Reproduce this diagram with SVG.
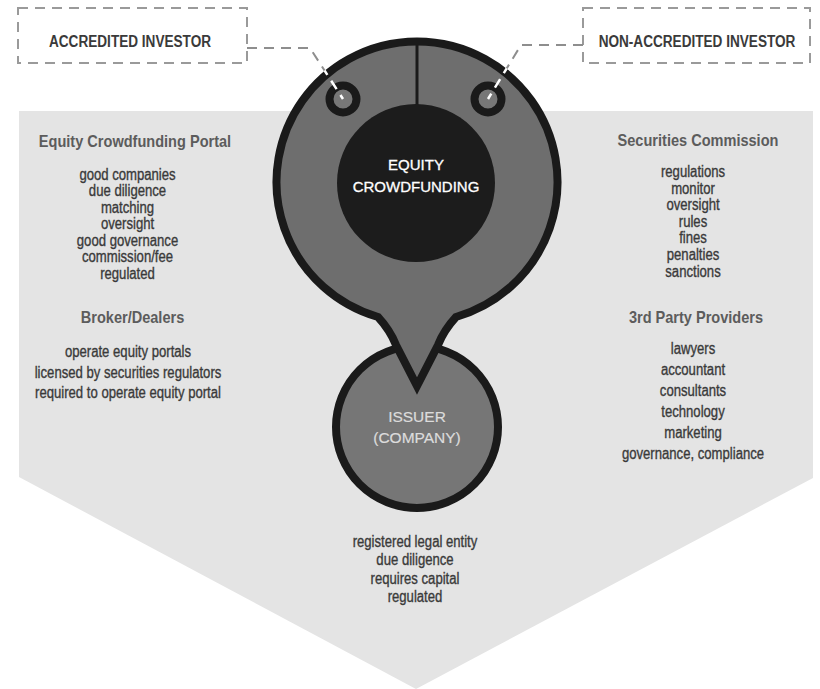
<svg xmlns="http://www.w3.org/2000/svg" width="820" height="689" viewBox="0 0 820 689">
<style>
.box{fill:none;stroke:#9a9a9a;stroke-width:2;stroke-dasharray:10 7}
.lbl{font-family:"Liberation Sans",Arial,sans-serif;font-weight:bold;font-size:17px;fill:#3a3a3a;text-anchor:middle}
.hd{font-family:"Liberation Sans",Arial,sans-serif;font-weight:bold;font-size:16px;fill:#5c5c5c;text-anchor:middle}
.tx{font-family:"Liberation Sans",Arial,sans-serif;font-size:16px;fill:#3a3a3a;stroke:#3a3a3a;stroke-width:0.35;text-anchor:middle}
.ctr{font-family:"Liberation Sans",Arial,sans-serif;font-size:15px;fill:#ffffff;stroke:#ffffff;stroke-width:0.3;text-anchor:middle}
.iss{font-family:"Liberation Sans",Arial,sans-serif;font-size:15.5px;fill:#dcdcdc;stroke:#dcdcdc;stroke-width:0.2;text-anchor:middle}
.conn{fill:none;stroke:#8e8e8e;stroke-width:2;stroke-dasharray:10 7}
.connw{fill:none;stroke:#ffffff;stroke-width:2.5;stroke-dasharray:10 7}
</style>
<defs>
<clipPath id="pinclip"><circle cx="417" cy="181" r="144"/></clipPath>
<clipPath id="outclip"><path d="M0 0H820V689H0Z M417 37a144 144 0 1 0 0.01 0Z" clip-rule="evenodd"/></clipPath>
</defs>
<rect width="820" height="689" fill="#ffffff"/>
<polygon id="band" points="19,111 813,111 813,478 416,689 19,477" fill="#e4e4e4"/>

<g id="accredited-investor">
<rect class="box" x="18" y="8" width="229" height="55"/>
<g transform="translate(130 0) scale(0.8 1)"><text class="lbl" x="0" y="47">ACCREDITED INVESTOR</text></g>
</g>
<g id="non-accredited-investor">
<rect class="box" x="583" y="8" width="227" height="55"/>
<g transform="translate(697 0) scale(0.8 1)"><text class="lbl" x="0" y="47">NON-ACCREDITED INVESTOR</text></g>
</g>

<g id="issuer">
<circle cx="417" cy="427" r="81" fill="#767676" stroke="#1a1a1a" stroke-width="8"/>
<text class="iss" x="417" y="422">ISSUER</text>
<text class="iss" x="417" y="443">(COMPANY)</text>
</g>

<g id="pin">
<path d="M378 317 A140.5 140.5 0 1 1 456 317 Q444 330 438 345 L417 386 L396 345 Q390 330 378 317 Z" fill="#6e6e6e" stroke="#1a1a1a" stroke-width="8" stroke-linejoin="miter"/>
<line x1="417" y1="40" x2="417" y2="106" stroke="#1a1a1a" stroke-width="3"/>
<circle cx="343" cy="99" r="13.5" fill="#777" stroke="#1a1a1a" stroke-width="8"/>
<circle cx="488" cy="99" r="13.5" fill="#777" stroke="#1a1a1a" stroke-width="8"/>
</g>

<g id="equity-crowdfunding">
<circle cx="416" cy="183" r="79" fill="#1c1c1c"/>
<text class="ctr" x="416" y="170">EQUITY</text>
<text class="ctr" x="416" y="192">CROWDFUNDING</text>
</g>

<g id="connectors">
<path class="conn" clip-path="url(#outclip)" d="M247 48 H310 L343 99"/>
<path class="connw" clip-path="url(#pinclip)" d="M247 48 H310 L343 99"/>
<path class="conn" clip-path="url(#outclip)" d="M583 45 H521 L488 99"/>
<path class="connw" clip-path="url(#pinclip)" d="M583 45 H521 L488 99"/>
</g>

<g id="equity-crowdfunding-portal">
<g transform="translate(135 0) scale(0.91 1)"><text class="hd" x="0" y="147">Equity Crowdfunding Portal</text></g>
<g transform="translate(127.5 0) scale(0.82 1)">
<text class="tx" x="0" y="180">good companies</text>
<text class="tx" x="0" y="196.5">due diligence</text>
<text class="tx" x="0" y="213">matching</text>
<text class="tx" x="0" y="229.5">oversight</text>
<text class="tx" x="0" y="246">good governance</text>
<text class="tx" x="0" y="262.5">commission/fee</text>
<text class="tx" x="0" y="279">regulated</text>
</g>
</g>

<g id="broker-dealers">
<g transform="translate(132.5 0) scale(0.91 1)"><text class="hd" x="0" y="323">Broker/Dealers</text></g>
<g transform="translate(128 0) scale(0.82 1)">
<text class="tx" x="0" y="357">operate equity portals</text>
<text class="tx" x="0" y="378">licensed by securities regulators</text>
<text class="tx" x="0" y="398.5">required to operate equity portal</text>
</g>
</g>

<g id="securities-commission">
<g transform="translate(698 0) scale(0.91 1)"><text class="hd" x="0" y="146">Securities Commission</text></g>
<g transform="translate(693 0) scale(0.82 1)">
<text class="tx" x="0" y="177">regulations</text>
<text class="tx" x="0" y="193.6">monitor</text>
<text class="tx" x="0" y="210.2">oversight</text>
<text class="tx" x="0" y="226.8">rules</text>
<text class="tx" x="0" y="243.4">fines</text>
<text class="tx" x="0" y="260">penalties</text>
<text class="tx" x="0" y="276.6">sanctions</text>
</g>
</g>

<g id="third-party-providers">
<g transform="translate(696 0) scale(0.91 1)"><text class="hd" x="0" y="323">3rd Party Providers</text></g>
<g transform="translate(693 0) scale(0.82 1)">
<text class="tx" x="0" y="354.5">lawyers</text>
<text class="tx" x="0" y="375.5">accountant</text>
<text class="tx" x="0" y="396.5">consultants</text>
<text class="tx" x="0" y="417.5">technology</text>
<text class="tx" x="0" y="438.5">marketing</text>
<text class="tx" x="0" y="459.5">governance, compliance</text>
</g>
</g>

<g id="issuer-details">
<g transform="translate(415 0) scale(0.82 1)">
<text class="tx" x="0" y="547">registered legal entity</text>
<text class="tx" x="0" y="565.3">due diligence</text>
<text class="tx" x="0" y="583.6">requires capital</text>
<text class="tx" x="0" y="602">regulated</text>
</g>
</g>
</svg>
